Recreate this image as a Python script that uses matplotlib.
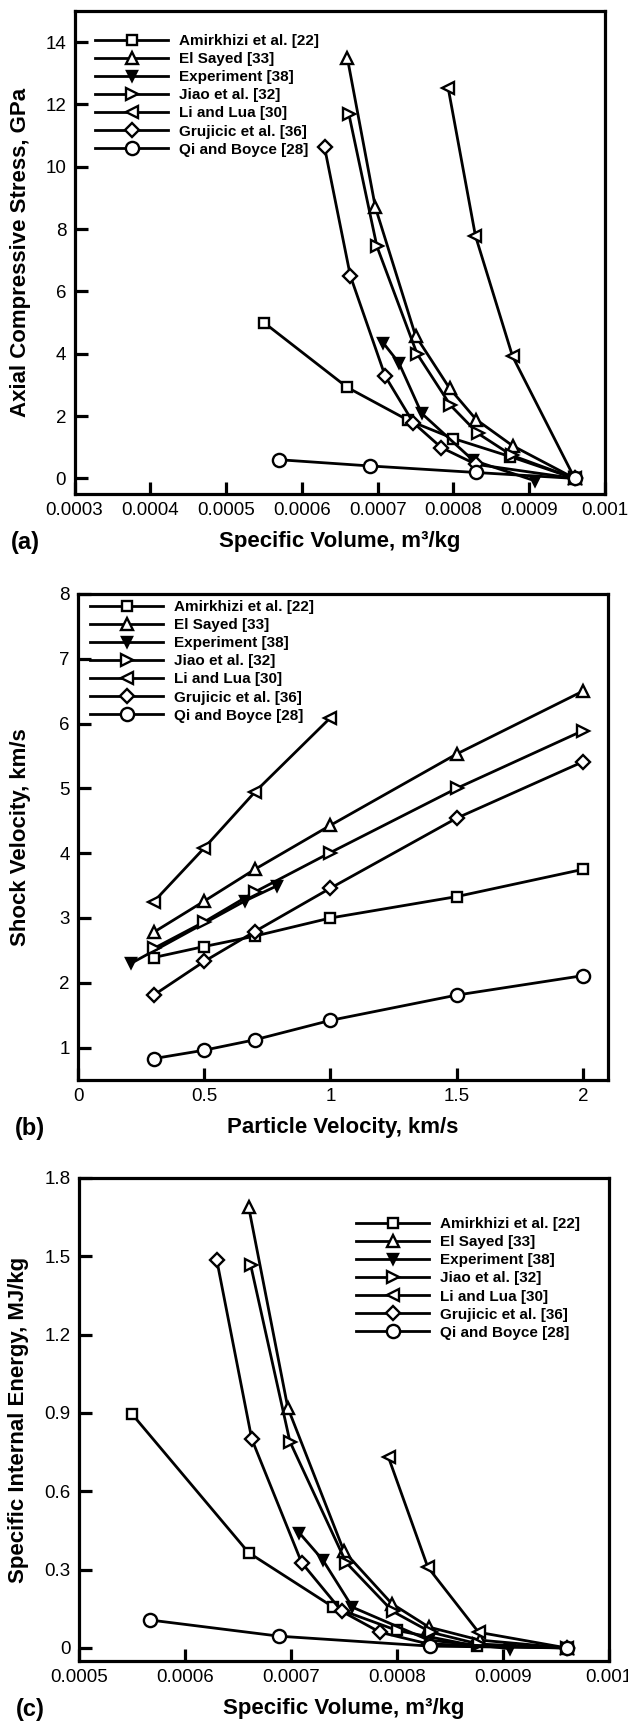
import matplotlib
matplotlib.use("Agg")
import matplotlib.pyplot as plt

plt.rcParams["font.family"] = ["Liberation Sans", "DejaVu Sans"]

W, H = 628, 1729

labels = ["Amirkhizi et al. [22]", "El Sayed [33]", "Experiment [38]", "Jiao et al. [32]",
          "Li and Lua [30]", "Grujicic et al. [36]", "Qi and Boyce [28]"]

# (a) axial compressive stress vs specific volume
a_amir_x = [0.00055, 0.00066, 0.00074, 0.00080, 0.000875, 0.00096]
a_amir_y = [5.0, 2.92, 1.87, 1.28, 0.70, 0.0]
a_elsa_x = [0.00066, 0.000697, 0.00075, 0.000795, 0.00083, 0.000878, 0.00096]
a_elsa_y = [13.5, 8.7, 4.58, 2.89, 1.89, 1.05, 0.0]
a_expt_x = [0.000707, 0.000728, 0.000758, 0.000826, 0.000908]
a_expt_y = [4.36, 3.71, 2.09, 0.58, -0.08]
a_jiao_x = [0.000662, 0.000699, 0.000752, 0.000796, 0.000832, 0.000877, 0.00096]
a_jiao_y = [11.7, 7.45, 4.0, 2.35, 1.45, 0.74, 0.0]
a_lilu_x = [0.000793, 0.000829, 0.000878, 0.00096]
a_lilu_y = [12.54, 7.79, 3.92, 0.0]
a_gruj_x = [0.00063, 0.000664, 0.00071, 0.000747, 0.000784, 0.00083, 0.00096]
a_gruj_y = [10.62, 6.5, 3.28, 1.79, 0.99, 0.45, 0.0]
a_qiby_x = [0.00057, 0.00069, 0.00083, 0.00096]
a_qiby_y = [0.6, 0.4, 0.19, 0.0]

# (b) shock velocity vs particle velocity
b_amir_x = [0.3, 0.5, 0.7, 1.0, 1.5, 2.0]
b_amir_y = [2.39, 2.56, 2.72, 3.0, 3.33, 3.75]
b_elsa_x = [0.3, 0.5, 0.7, 1.0, 1.5, 2.0]
b_elsa_y = [2.78, 3.26, 3.75, 4.43, 5.53, 6.5]
b_expt_x = [0.21, 0.66, 0.79]
b_expt_y = [2.3, 3.26, 3.5]
b_jiao_x = [0.3, 0.5, 0.7, 1.0, 1.5, 2.0]
b_jiao_y = [2.53, 2.94, 3.4, 4.01, 5.0, 5.89]
b_lilu_x = [0.3, 0.5, 0.7, 1.0]
b_lilu_y = [3.25, 4.08, 4.94, 6.09]
b_gruj_x = [0.3, 0.5, 0.7, 1.0, 1.5, 2.0]
b_gruj_y = [1.81, 2.33, 2.79, 3.46, 4.54, 5.41]
b_qiby_x = [0.3, 0.5, 0.7, 1.0, 1.5, 2.0]
b_qiby_y = [0.83, 0.96, 1.12, 1.42, 1.81, 2.11]

# (c) specific internal energy vs specific volume
c_amir_x = [0.00055, 0.00066, 0.00074, 0.00080, 0.000875, 0.00096]
c_amir_y = [0.896, 0.365, 0.156, 0.067, 0.007, 0.0]
c_elsa_x = [0.00066, 0.000697, 0.00075, 0.000795, 0.00083, 0.000878, 0.00096]
c_elsa_y = [1.69, 0.92, 0.37, 0.17, 0.08, 0.03, 0.0]
c_expt_x = [0.000708, 0.00073, 0.000758, 0.00083, 0.000907]
c_expt_y = [0.44, 0.337, 0.156, 0.03, -0.003]
c_jiao_x = [0.000662, 0.000699, 0.000752, 0.000796, 0.000832, 0.000877, 0.00096]
c_jiao_y = [1.466, 0.79, 0.327, 0.14, 0.06, 0.015, 0.0]
c_lilu_x = [0.000792, 0.000829, 0.000877, 0.00096]
c_lilu_y = [0.73, 0.31, 0.06, 0.0]
c_gruj_x = [0.00063, 0.000663, 0.00071, 0.000748, 0.000784, 0.00083, 0.00096]
c_gruj_y = [1.485, 0.8, 0.327, 0.14, 0.06, 0.015, 0.0]
c_qiby_x = [0.000567, 0.000689, 0.000831, 0.00096]
c_qiby_y = [0.107, 0.045, 0.007, 0.0]

styles = [
    dict(marker="s", ms=7.5, mfc="white"),
    dict(marker="^", ms=8.5, mfc="white"),
    dict(marker="v", ms=6.5, mfc="black"),
    dict(marker=">", ms=8.5, mfc="white"),
    dict(marker="<", ms=8.5, mfc="white"),
    dict(marker="D", ms=7, mfc="white"),
    dict(marker="o", ms=9.5, mfc="white"),
]

fig = plt.figure(figsize=(W / 100, H / 100), dpi=100)


def px_axes(l, r, t, b):
    return fig.add_axes([l / W, 1 - b / H, (r - l) / W, (b - t) / H])


def draw(ax, series, leg_x, leg_y):
    for (x, y), lab, st in zip(series, labels, styles):
        ax.plot(x, y, color="black", lw=2.0, mec="black", mew=1.7, label=lab, **st)
    ax.legend(loc="upper left", bbox_to_anchor=(leg_x / W, 1 - (leg_y - 9) / H),
              bbox_transform=fig.transFigure, frameon=False, borderpad=0,
              borderaxespad=0, handlelength=4.8, handletextpad=0.7,
              labelspacing=0.27, prop=dict(size=11, weight="bold"))
    for s in ax.spines.values():
        s.set_linewidth(2.3)
    ax.tick_params(direction="in", length=9, width=2.3, labelsize=13.5, pad=6,
                   top=False, right=False)


ax1 = px_axes(74.5, 605, 11, 494)
draw(ax1, [(a_amir_x, a_amir_y), (a_elsa_x, a_elsa_y), (a_expt_x, a_expt_y),
           (a_jiao_x, a_jiao_y), (a_lilu_x, a_lilu_y), (a_gruj_x, a_gruj_y),
           (a_qiby_x, a_qiby_y)], 95, 43)
ax1.set_xlim(0.0003, 0.001)
ax1.set_ylim(-0.5, 15)
ax1.set_xticks([0.0003, 0.0004, 0.0005, 0.0006, 0.0007, 0.0008, 0.0009, 0.001])
ax1.set_xticklabels(["0.0003", "0.0004", "0.0005", "0.0006", "0.0007", "0.0008", "0.0009", "0.001"])
ax1.set_yticks([0, 2, 4, 6, 8, 10, 12, 14])
ax1.set_xlabel("Specific Volume, m³/kg", fontsize=16, fontweight="bold")
ax1.set_ylabel("Axial Compressive Stress, GPa", fontsize=16, fontweight="bold")
ax1.xaxis.set_label_coords(0.5, -0.076)
ax1.yaxis.set_label_coords(-0.082, 0.5)

ax2 = px_axes(78, 608, 594, 1080)
draw(ax2, [(b_amir_x, b_amir_y), (b_elsa_x, b_elsa_y), (b_expt_x, b_expt_y),
           (b_jiao_x, b_jiao_y), (b_lilu_x, b_lilu_y), (b_gruj_x, b_gruj_y),
           (b_qiby_x, b_qiby_y)], 90, 609)
ax2.set_xlim(0, 2.1)
ax2.set_ylim(0.5, 8)
ax2.set_xticks([0, 0.5, 1, 1.5, 2])
ax2.set_xticklabels(["0", "0.5", "1", "1.5", "2"])
ax2.set_yticks([1, 2, 3, 4, 5, 6, 7, 8])
ax2.set_xlabel("Particle Velocity, km/s", fontsize=16, fontweight="bold")
ax2.set_ylabel("Shock Velocity, km/s", fontsize=16, fontweight="bold")
ax2.xaxis.set_label_coords(0.5, -0.076)
ax2.yaxis.set_label_coords(-0.089, 0.5)

ax3 = px_axes(79, 609, 1178, 1661)
draw(ax3, [(c_amir_x, c_amir_y), (c_elsa_x, c_elsa_y), (c_expt_x, c_expt_y),
           (c_jiao_x, c_jiao_y), (c_lilu_x, c_lilu_y), (c_gruj_x, c_gruj_y),
           (c_qiby_x, c_qiby_y)], 356, 1226)
ax3.set_xlim(0.0005, 0.001)
ax3.set_ylim(-0.05, 1.8)
ax3.set_xticks([0.0005, 0.0006, 0.0007, 0.0008, 0.0009, 0.001])
ax3.set_xticklabels(["0.0005", "0.0006", "0.0007", "0.0008", "0.0009", "0.001"])
ax3.set_yticks([0, 0.3, 0.6, 0.9, 1.2, 1.5, 1.8])
ax3.set_yticklabels(["0", "0.3", "0.6", "0.9", "1.2", "1.5", "1.8"])
ax3.set_xlabel("Specific Volume, m³/kg", fontsize=16, fontweight="bold")
ax3.set_ylabel("Specific Internal Energy, MJ/kg", fontsize=16, fontweight="bold")
ax3.xaxis.set_label_coords(0.5, -0.076)
ax3.yaxis.set_label_coords(-0.094, 0.5)

# panel letters
for ax, lab in [(ax1, "(a)"), (ax2, "(b)"), (ax3, "(c)")]:
    ax.text(-0.12, -0.1, lab, transform=ax.transAxes, fontsize=17, fontweight="bold",
            ha="left", va="center")

fig.savefig("out.png", dpi=100)
